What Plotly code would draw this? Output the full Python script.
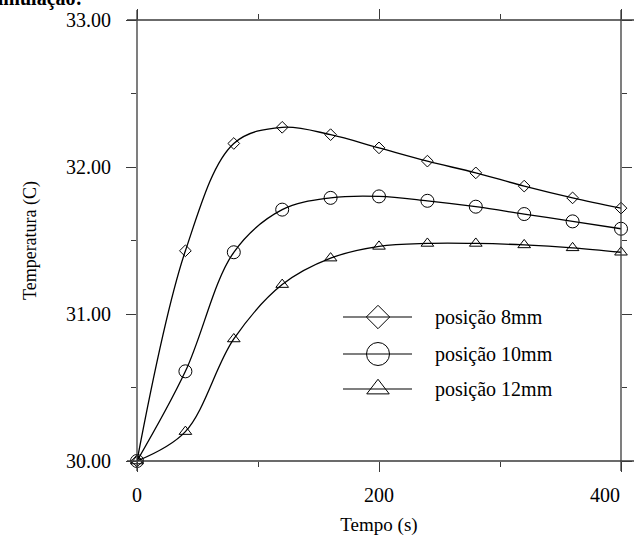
import plotly.graph_objects as go

# ---- data ----
tempo = [0, 40, 80, 120, 160, 200, 240, 280, 320, 360, 400]
pos8 = [30.00, 31.43, 32.16, 32.27, 32.22, 32.13, 32.04, 31.96, 31.87, 31.79, 31.72]
pos10 = [30.00, 30.61, 31.42, 31.71, 31.79, 31.80, 31.77, 31.73, 31.68, 31.63, 31.58]
pos12 = [30.00, 30.20, 30.83, 31.20, 31.38, 31.46, 31.48, 31.48, 31.47, 31.45, 31.42]
series_names = ["posição 8mm", "posição 10mm", "posição 12mm"]
x_ticks = [0, 200, 400]
y_ticks = [30, 31, 32, 33]
y_tick_labels = ["30.00", "31.00", "32.00", "33.00"]

W, H = 634, 536
L, R, T, B = 137, 13, 20, 75
PW, PH = W - L - R, H - T - B
FONT = "Liberation Serif"
AX = "#3a3a3a"


def px(xp):
    return (xp - L) / PW


def py(yp):
    return 1 - (yp - T) / PH


fig = go.Figure()

symbols = ["diamond-open", "circle-open", "triangle-up-open"]
sizes = [9, 13, 11]
for vals, sym, sz, name in zip([pos8, pos10, pos12], symbols, sizes, series_names):
    fig.add_trace(go.Scatter(
        x=tempo, y=vals, mode="lines+markers", name=name,
        line=dict(color="black", width=1.3, shape="spline", smoothing=1.0),
        marker=dict(symbol=sym, size=sz, color="black", line=dict(width=1, color="black")),
        showlegend=False, cliponaxis=False,
    ))

# ---- custom legend (paper coords via overlay axis) ----
leg_rows = [317, 354, 389]
leg_sizes = [18, 23, 19.5]
shapes = []
annotations = []
for row, sym, sz, name in zip(leg_rows, symbols, leg_sizes, series_names):
    shapes.append(dict(type="line", xref="paper", yref="paper",
                       x0=px(343), x1=px(412), y0=py(row), y1=py(row),
                       line=dict(color="black", width=1.2)))
    fig.add_trace(go.Scatter(
        x=[px(378)], y=[py(row)], xaxis="x2", yaxis="y2", mode="markers",
        marker=dict(symbol=sym, size=sz, color="black", line=dict(width=1, color="black")),
        showlegend=False, hoverinfo="skip", cliponaxis=False,
    ))
    annotations.append(dict(text=name, xref="paper", yref="paper", x=px(433), y=py(row),
                            xanchor="left", yanchor="middle", showarrow=False,
                            font=dict(family=FONT, size=20, color="black")))

# axis line extensions (cross-hair style frame corners)
ext = 10
for xv in [0, 1]:
    shapes.append(dict(type="line", xref="paper", yref="paper",
                       x0=xv, x1=xv, y0=-ext / PH, y1=1 + ext / PH,
                       line=dict(color=AX, width=1.3)))
for yv in [0, 1]:
    shapes.append(dict(type="line", xref="paper", yref="paper",
                       x0=-ext / PW, x1=1 + 13 / PW, y0=yv, y1=yv,
                       line=dict(color=AX, width=1.3)))

# last x tick label kept inside the page (right-aligned at the last tick)
annotations.append(dict(text=str(x_ticks[-1]), xref="x", yref="paper", x=x_ticks[-1], y=py(495),
                        xanchor="right", yanchor="middle", showarrow=False, xshift=1,
                        font=dict(family=FONT, size=20, color="black")))

# partial page text cut at top
annotations.append(dict(text="<b>simulação:</b>", xref="paper", yref="paper",
                        x=px(84), y=py(-2), xanchor="right", yanchor="middle",
                        showarrow=False, font=dict(family=FONT, size=20, color="black")))

x_tick_text = [str(v) for v in x_ticks[:-1]] + [""]

fig.update_layout(
    width=W, height=H,
    margin=dict(l=L, r=R, t=T, b=B, autoexpand=False),
    paper_bgcolor="white", plot_bgcolor="white",
    font=dict(family=FONT, color="black"),
    shapes=shapes, annotations=annotations,
    xaxis=dict(range=[0, 400], tickvals=x_ticks, ticktext=x_tick_text,
               ticks="outside", ticklen=10, tickwidth=1.3, tickcolor=AX,
               minor=dict(dtick=100, tick0=0, ticks="outside", ticklen=5, tickwidth=1.3, tickcolor=AX),
               showline=False, mirror="ticks", showgrid=False, zeroline=False,
               tickfont=dict(size=20), ticklabelstandoff=6, ticklabeloverflow="allow",
               automargin=False,
               title=dict(text="Tempo (s)", font=dict(size=19), standoff=31)),
    yaxis=dict(range=[30, 33], tickvals=y_ticks, ticktext=y_tick_labels,
               ticks="outside", ticklen=10, tickwidth=1.3, tickcolor=AX,
               minor=dict(dtick=0.5, tick0=30, ticks="outside", ticklen=5, tickwidth=1.3, tickcolor=AX),
               showline=False, mirror="ticks", showgrid=False, zeroline=False,
               tickfont=dict(size=20), ticklabelstandoff=11, ticklabeloverflow="allow",
               automargin=False,
               title=dict(text="Temperatura (C)", font=dict(size=18), standoff=24)),
    xaxis2=dict(range=[0, 1], overlaying="x", visible=False, domain=[0, 1]),
    yaxis2=dict(range=[0, 1], overlaying="y", visible=False),
)

fig.write_html("out.html")
